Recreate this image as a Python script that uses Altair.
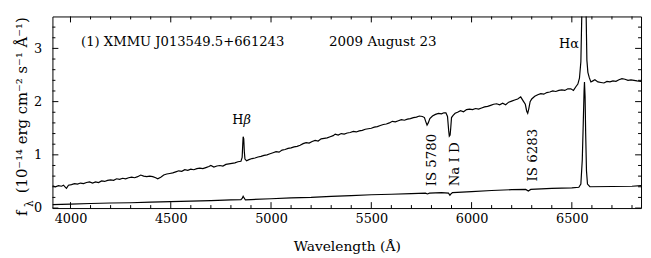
import altair as alt
import pandas as pd

# ---------------- data ----------------
upper_wl = [3910, 3925, 3940, 3955, 3965, 3975, 3980, 3990, 4005, 4020, 4035, 4050, 4065, 4080,
            4095, 4110, 4125, 4140, 4155, 4170, 4185, 4200, 4215, 4230, 4245, 4260, 4275, 4290,
            4305, 4320, 4335, 4350, 4365, 4380, 4395, 4410, 4425, 4435, 4450, 4465, 4480, 4495,
            4510, 4525, 4540, 4555, 4570, 4585, 4600, 4615, 4630, 4645, 4660, 4675, 4690, 4700,
            4715, 4730, 4745, 4760, 4775, 4790, 4805, 4820, 4835, 4850, 4856, 4859, 4861, 4864,
            4867, 4870, 4878, 4890, 4905, 4920, 4935, 4950, 4965, 4980, 4995, 5010, 5025, 5040,
            5055, 5070, 5085, 5100, 5115, 5130, 5145, 5160, 5175, 5190, 5205, 5220, 5235, 5250,
            5265, 5280, 5295, 5310, 5320, 5335, 5350, 5365, 5380, 5395, 5410, 5425, 5440, 5455,
            5470, 5485, 5500, 5515, 5530, 5545, 5560, 5575, 5590, 5605, 5620, 5635, 5650, 5665,
            5680, 5695, 5710, 5725, 5740, 5755, 5765, 5772, 5778, 5784, 5792, 5805, 5820, 5835,
            5850, 5862, 5872, 5880, 5886, 5889, 5893, 5896, 5900, 5908, 5918, 5930, 5945, 5960,
            5975, 5990, 6005, 6020, 6035, 6050, 6065, 6080, 6095, 6110, 6125, 6140, 6155, 6170,
            6185, 6200, 6215, 6230, 6245, 6258, 6268, 6275, 6280, 6285, 6292, 6300, 6315, 6330,
            6345, 6360, 6375, 6390, 6405, 6420, 6435, 6450, 6465, 6480, 6495, 6508, 6520, 6530,
            6538, 6545, 6550, 6555, 6560, 6563, 6567, 6571, 6575, 6580, 6587, 6595, 6605, 6615,
            6630, 6645, 6660, 6675, 6690, 6705, 6720, 6735, 6750, 6765, 6780, 6795, 6810, 6825,
            6845]
upper_flux = [0.42, 0.40, 0.42, 0.41, 0.43, 0.39, 0.37, 0.43, 0.44, 0.46, 0.45, 0.47, 0.46, 0.48,
              0.49, 0.47, 0.49, 0.48, 0.51, 0.50, 0.52, 0.53, 0.52, 0.55, 0.54, 0.56, 0.55, 0.57,
              0.58, 0.57, 0.59, 0.62, 0.60, 0.59, 0.60, 0.59, 0.57, 0.55, 0.58, 0.62, 0.64, 0.65,
              0.66, 0.68, 0.70, 0.69, 0.72, 0.71, 0.73, 0.72, 0.74, 0.75, 0.74, 0.76, 0.78, 0.80,
              0.77, 0.79, 0.80, 0.79, 0.82, 0.83, 0.84, 0.85, 0.87, 0.88, 0.95, 1.20, 1.34, 1.30,
              1.05, 0.92, 0.89, 0.91, 0.93, 0.94, 0.96, 0.97, 0.99, 1.00, 1.02, 1.04, 1.06, 1.05,
              1.09, 1.10, 1.12, 1.13, 1.15, 1.16, 1.18, 1.21, 1.23, 1.22, 1.25, 1.27, 1.26, 1.30,
              1.31, 1.32, 1.34, 1.36, 1.39, 1.37, 1.40, 1.39, 1.41, 1.42, 1.44, 1.43, 1.45, 1.46,
              1.48, 1.49, 1.50, 1.52, 1.53, 1.55, 1.57, 1.58, 1.60, 1.63, 1.62, 1.64, 1.66, 1.65,
              1.67, 1.68, 1.70, 1.71, 1.73, 1.72, 1.70, 1.62, 1.56, 1.60, 1.68, 1.73, 1.76, 1.78,
              1.77, 1.79, 1.79, 1.72, 1.45, 1.35, 1.37, 1.50, 1.70, 1.74, 1.78, 1.80, 1.83, 1.81,
              1.85, 1.86, 1.85, 1.87, 1.86, 1.88, 1.90, 1.91, 1.93, 1.95, 1.96, 1.94, 1.97, 1.94,
              1.99, 2.01, 2.03, 2.05, 2.09, 2.01, 1.95, 1.82, 1.78, 1.86, 2.00, 2.05, 2.10, 2.13,
              2.15, 2.14, 2.17, 2.18, 2.20, 2.19, 2.21, 2.22, 2.21, 2.24, 2.24, 2.21, 2.28, 2.33,
              2.44, 2.75, 3.70, 4.60, 5.50, 5.80, 5.00, 3.70, 2.78, 2.55, 2.45, 2.37, 2.39, 2.41,
              2.37, 2.36, 2.35, 2.38, 2.37, 2.39, 2.38, 2.41, 2.43, 2.42, 2.40, 2.41, 2.40, 2.39,
              2.38]

lower_wl = [3910, 4000, 4100, 4200, 4300, 4400, 4500, 4600, 4700, 4800, 4850, 4856, 4861, 4866,
            4872, 4900, 5000, 5100, 5200, 5300, 5400, 5500, 5600, 5700, 5770, 5780, 5790, 5850,
            5885, 5892, 5898, 5905, 6000, 6100, 6200, 6270, 6283, 6295, 6400, 6500, 6535, 6545,
            6552, 6557, 6561, 6563, 6566, 6569, 6573, 6578, 6590, 6700, 6800, 6845]
lower_flux = [0.065, 0.075, 0.085, 0.095, 0.10, 0.11, 0.12, 0.13, 0.14, 0.155, 0.16, 0.18, 0.22, 0.19,
              0.155, 0.16, 0.175, 0.19, 0.20, 0.22, 0.235, 0.25, 0.26, 0.27, 0.28, 0.265, 0.28, 0.29,
              0.28, 0.24, 0.27, 0.29, 0.31, 0.33, 0.345, 0.35, 0.32, 0.35, 0.37, 0.38, 0.39, 0.45,
              0.90, 1.60, 2.20, 2.37, 2.10, 1.40, 0.70, 0.45, 0.40, 0.405, 0.41, 0.42]

x_major = [4000, 4500, 5000, 5500, 6000, 6500]
x_minor = [v for v in range(4000, 6900, 100) if v % 500 != 0]
y_major = [0, 1, 2, 3]
y_minor = [0.2, 0.4, 0.6, 0.8, 1.2, 1.4, 1.6, 1.8, 2.2, 2.4, 2.6, 2.8, 3.2, 3.4]

# ---------------- chart ----------------
W, H = 596, 194
SERIF = "DejaVu Serif"

xs = alt.Scale(domain=[3910, 6845], nice=False, zero=False)
ys = alt.Scale(domain=[0, 3.6], nice=False, zero=False)

df_up = pd.DataFrame({"wl": upper_wl, "flux": upper_flux})
df_lo = pd.DataFrame({"wl": lower_wl, "flux": lower_flux})

upper = alt.Chart(df_up).mark_line(color="black", strokeWidth=1.2, clip=True).encode(
    x=alt.X("wl:Q", scale=xs,
            axis=alt.Axis(values=x_major, format="d", title="Wavelength (Å)",
                          ticks=False, domain=False, grid=False, labelPadding=5,
                          labelFont=SERIF, labelFontSize=13, labelColor="black",
                          titleFont=SERIF, titleFontSize=14, titleFontWeight="normal",
                          titleColor="black", titlePadding=14)),
    y=alt.Y("flux:Q", scale=ys,
            axis=alt.Axis(values=y_major, format="d", title="",
                          ticks=False, domain=False, grid=False, labelPadding=11,
                          labelFont=SERIF, labelFontSize=13, labelColor="black")),
)
lower = alt.Chart(df_lo).mark_line(color="black", strokeWidth=1.2, clip=True).encode(
    x=alt.X("wl:Q", scale=xs),
    y=alt.Y("flux:Q", scale=ys),
)

def xticks(vals, length):
    d = pd.DataFrame({"wl": vals})
    bot = alt.Chart(d).mark_rule(color="black", strokeWidth=1).encode(
        x=alt.X("wl:Q", scale=xs), y=alt.value(H), y2=alt.value(H - length))
    top = alt.Chart(d).mark_rule(color="black", strokeWidth=1).encode(
        x=alt.X("wl:Q", scale=xs), y=alt.value(0), y2=alt.value(length))
    return [bot, top]

def yticks(vals, length):
    d = pd.DataFrame({"flux": vals})
    left = alt.Chart(d).mark_rule(color="black", strokeWidth=1).encode(
        y=alt.Y("flux:Q", scale=ys), x=alt.value(0), x2=alt.value(length))
    right = alt.Chart(d).mark_rule(color="black", strokeWidth=1).encode(
        y=alt.Y("flux:Q", scale=ys), x=alt.value(W), x2=alt.value(W - length))
    return [left, right]

def label(text, x, y, size=13, angle=0, align="left", baseline="alphabetic", style="normal"):
    return alt.Chart(pd.DataFrame({"t": [text]})).mark_text(
        font=SERIF, fontSize=size, angle=angle, align=align, baseline=baseline,
        color="black", fontStyle=style
    ).encode(x=alt.value(x), y=alt.value(y), text="t:N")

texts = [
    label("(1) XMMU J013549.5+661243", 29, 30, size=13.3),
    label("2009 August 23", 280, 30, size=13.6),
    label("Hα", 513, 32, size=13),
    label("H", 182, 109, size=13),
    label("β", 193.5, 109, size=13, style="italic"),
    label("IS 5780", 388, 172, size=13.5, angle=270),
    label("Na I D", 412, 172, size=13.5, angle=270),
    label("IS 6283", 491, 167, size=13.5, angle=270),
    # y-axis title
    label("f", -26, 202, size=15, angle=270),
    label("λ", -20, 193, size=10.5, angle=270),
    label("(10⁻¹⁴ erg cm⁻² s⁻¹ Å⁻¹)", -26, 179, size=15, angle=270),
]

layers = [upper, lower] + xticks(x_major, 6) + xticks(x_minor, 3) + yticks(y_major, 6) + yticks(y_minor, 3) + texts

chart = alt.layer(*layers).properties(
    width=W, height=H,
    autosize=alt.AutoSizeParams(type="none"),
    padding={"left": 45, "top": 7, "right": 2, "bottom": 49},
).configure(background="white").configure_view(stroke="black", strokeWidth=1)

chart.save("out.html", embed_options={"renderer": "svg", "actions": False})
